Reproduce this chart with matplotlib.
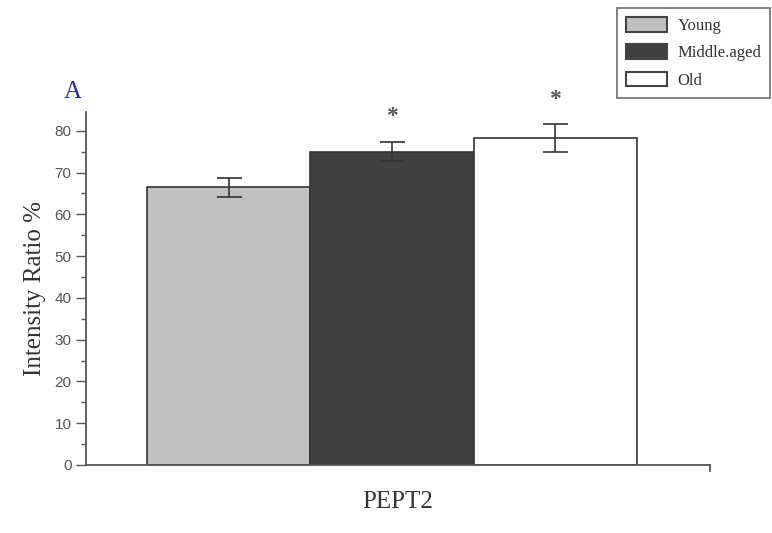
import matplotlib
matplotlib.use("Agg")
import matplotlib.pyplot as plt
from matplotlib.patches import Patch

groups = ["Young", "Middle.aged", "Old"]
values = [66.5, 75.0, 78.3]
errors = [2.3, 2.3, 3.3]
stars = ["", "*", "*"]
colors = ["#c0c0c0", "#404040", "#ffffff"]
category = "PEPT2"

fig = plt.figure(figsize=(7.72, 5.33), dpi=100)
ax = fig.add_axes([0.1114, 0.1276, 0.8083, 0.6623])

x = list(range(len(groups)))
ax.bar(x, values, width=1.0, color=colors, edgecolor="#333333", linewidth=1.2)
ax.errorbar(x, values, yerr=errors, fmt="none", ecolor="#333333",
            elinewidth=1.2, capsize=9, capthick=1.2)
for xi, v, e, s in zip(x, values, errors, stars):
    if s:
        ax.text(xi, v + e + 6.0, s, ha="center", va="center",
                fontsize=17, color="#555555", family="Liberation Serif",
                fontweight="bold")

ax.set_xlim(-0.874, 2.948)
ax.set_ylim(0, 84.5)
ax.set_yticks(range(0, 81, 10))
ax.set_yticks(range(5, 81, 10), minor=True)
ax.tick_params(axis="y", which="major", length=7, width=1, color="#555555",
               labelsize=11, labelcolor="#555555")
ax.tick_params(axis="y", which="minor", length=3.5, width=1, color="#555555")
for lab in ax.get_yticklabels():
    lab.set_family("Liberation Sans")
ax.set_xticks([])
ax.spines["top"].set_visible(False)
ax.spines["right"].set_visible(False)
for sp in ("left", "bottom"):
    ax.spines[sp].set_color("#555555")
    ax.spines[sp].set_linewidth(1.3)
ax.plot([2.948, 2.948], [0, -1.5], color="#555555", lw=1.3, clip_on=False)

ax.set_ylabel("Intensity Ratio %", family="Liberation Serif", fontsize=18,
              color="#333333", labelpad=6)
ax.set_xlabel(category, family="Liberation Serif", fontsize=18,
              color="#333333", labelpad=19)
fig.text(73 / 772, 1 - 92 / 533, "A", family="Liberation Serif", fontsize=18,
         color="#2b2ba6", ha="center", va="center")

handles = [Patch(facecolor=c, edgecolor="#444444", linewidth=1.5) for c in colors]
leg = fig.legend(handles, groups, loc="upper right",
                 bbox_to_anchor=(0.998, 0.985), frameon=True, fancybox=False,
                 prop={"family": "Liberation Serif", "size": 12},
                 handlelength=2.5, handleheight=0.95, labelspacing=0.62,
                 borderpad=0.55, handletextpad=0.6, borderaxespad=0)
leg.get_frame().set_edgecolor("#555555")
leg.get_frame().set_linewidth(1.3)
for t in leg.get_texts():
    t.set_color("#333333")

fig.savefig("out.png", dpi=100)
